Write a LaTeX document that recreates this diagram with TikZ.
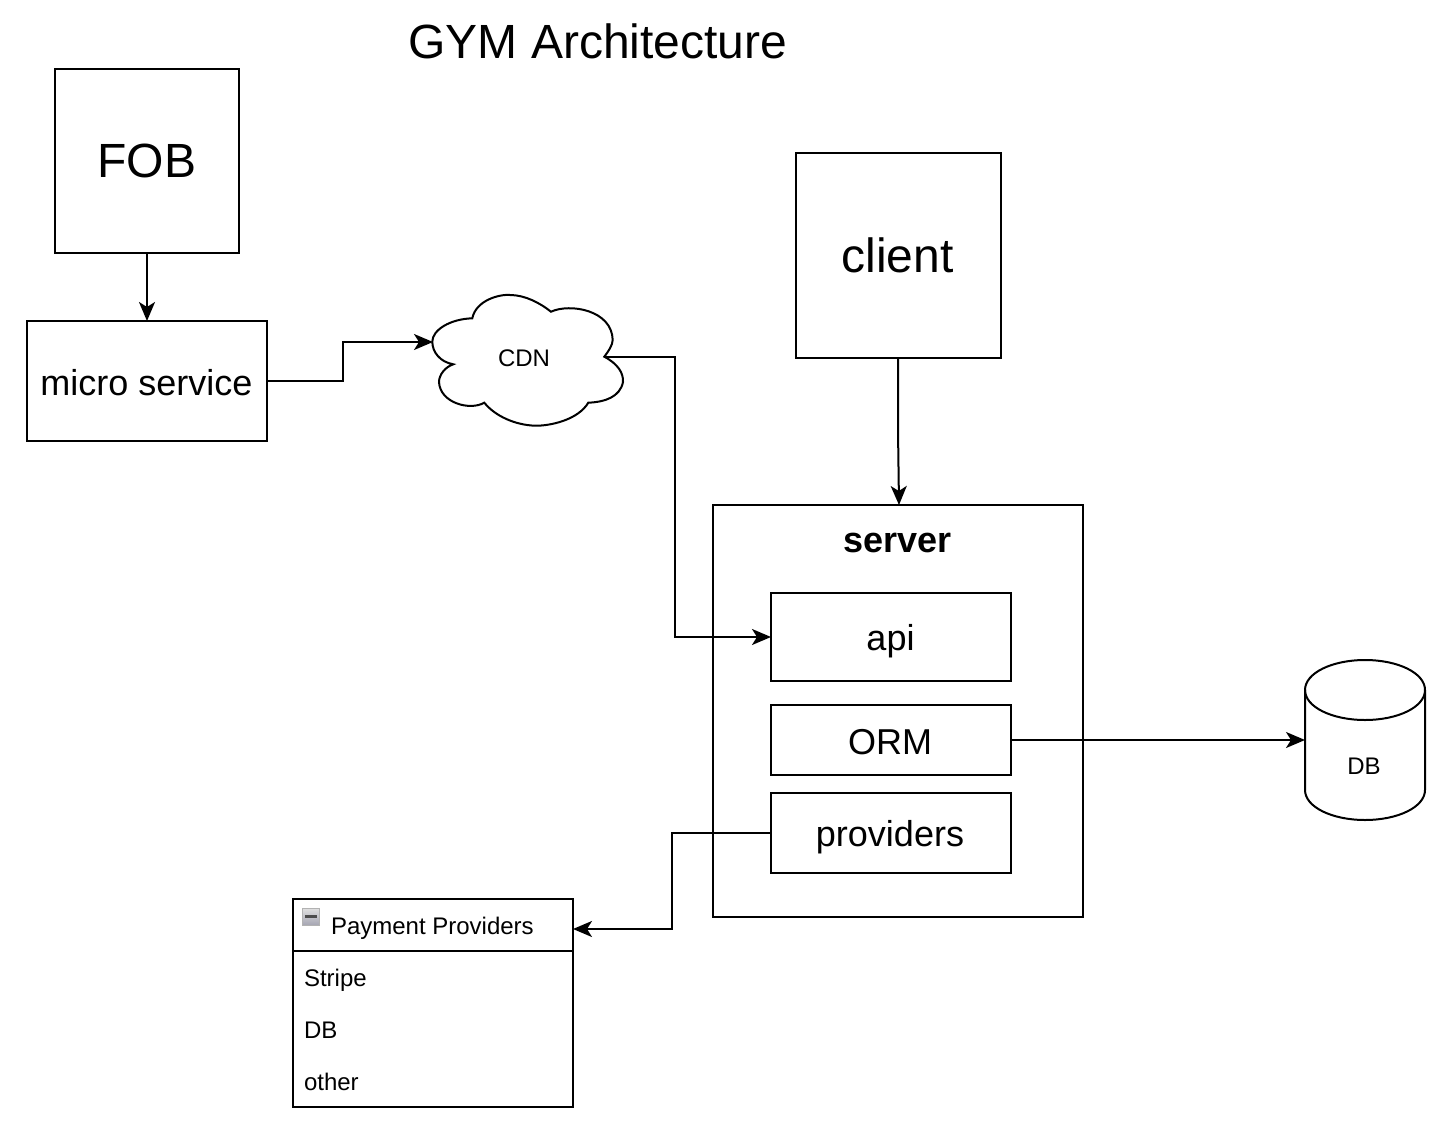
\documentclass[tikz,border=0pt]{standalone}
\usepackage{fontspec}
\setmainfont{Liberation Sans}
\usetikzlibrary{arrows.meta}
\tikzset{
  base/.style={line width=2pt,outer sep=0pt,inner sep=0pt,draw=black,fill=white},
  txt/.style={inner sep=0pt,outer sep=0pt,text=black},
  conn/.style={line width=2pt,draw=black,-{Stealth[length=19pt,width=16pt,inset=5pt]}},
  fontA/.style={font=\fontsize{48}{54}\selectfont},
  fontB/.style={font=\fontsize{36}{42}\selectfont},
  fontC/.style={font=\fontsize{24}{28}\selectfont},
}
\begin{document}
\begin{tikzpicture}[x=1pt,y=-1pt]
\useasboundingbox[fill=white] (0,0) rectangle (1456,1134);
\node[txt,fontA] (title) at (598,41) {GYM Architecture};
\node[base,fontA,minimum width=184pt,minimum height=184pt] (fob) at (147,161) {FOB};
\node[base,fontB,text height=28pt,text depth=0pt,minimum width=240pt,minimum height=120pt] (micro) at (147,381) {\kern-1pt micro service};
\node[base,fontA,minimum width=205pt,minimum height=205pt] (client) at (898,255.5) {\kern-1pt client};
\node[base,minimum width=370pt,minimum height=412pt] (server) at (898,711) {};
\node[txt,fontB] (servertitle) at (897.5,543) {\bfseries server};
\node[base,fontB,text depth=0pt,minimum width=240pt,minimum height=88pt] (api) at (891,637) {\kern-1pt api};
\node[base,fontB,text height=28pt,text depth=0pt,minimum width=240pt,minimum height=70pt] (orm) at (891,740) {\kern-2pt ORM};
\node[base,fontB,text depth=0pt,minimum width=240pt,minimum height=80pt] (prov) at (891,833) {\kern-2pt providers};
% cloud
\draw[base] (432.3,341.7)
  .. controls (432.3,330) and (450,319) .. (472.3,318.3)
  .. controls (476,300) and (500,294) .. (510,295)
  .. controls (525,295) and (540,303) .. (551,311.7)
  .. controls (570,303) and (612,310) .. (612.7,340)
  .. controls (612.7,345) and (608,352) .. (604.3,356.7)
  .. controls (618,364) and (623.5,373) .. (623,382)
  .. controls (620,397) and (605,402) .. (588.3,402.7)
  .. controls (578,420) and (550,426) .. (535,425.7)
  .. controls (515,425) and (495,416) .. (484.3,402.7)
  .. controls (470,411) and (440,403) .. (439,382)
  .. controls (439,375) and (445,367) .. (453.3,364.3)
  .. controls (440,362) and (432.3,352) .. (432.3,341.7) -- cycle;
\coordinate (cloudW) at (433,342);
\coordinate (cloudE) at (605,357);
\node[txt,fontC] (cdn) at (524,358) {CDN};
% cylinder
\draw[base] (1305,690) .. controls (1305,673) and (1332,660) .. (1365,660)
  .. controls (1398,660) and (1425,673) .. (1425,690)
  -- (1425,790) .. controls (1425,807) and (1398,820) .. (1365,820)
  .. controls (1332,820) and (1305,807) .. (1305,790) -- cycle;
\draw[line width=2pt] (1305,690) .. controls (1305,707) and (1332,720) .. (1365,720)
  .. controls (1398,720) and (1425,707) .. (1425,690);
\coordinate (dbW) at (1305,740);
\node[txt,fontC] (db) at (1364,766) {DB};
% table
\node[base,minimum width=280pt,minimum height=208pt] (table) at (433,1003) {};
\coordinate (hdrL) at (293,951);
\coordinate (hdrR) at (573,951);
\draw[line width=2pt] (hdrL) -- (hdrR);
\coordinate (tableE) at (573,929);
\shade[top color=black!12,bottom color=blue!15!black!35] (302.5,908) rectangle (319.5,925);
\draw[black!30,line width=0.6pt] (302.5,908) rectangle (319.5,925);
\draw[black!70,line width=2.2pt] (305,916.5) -- (317,916.5);
\node[txt,fontC,anchor=west] (phead) at (331,928) {Payment Providers};
\node[txt,fontC,anchor=west] (r1) at (304,980) {Stripe};
\node[txt,fontC,anchor=west] (r2) at (304,1030) {DB};
\node[txt,fontC,anchor=west] (r3) at (304,1082) {other};
% connectors
\draw[conn] (fob.south) -- (micro.north);
\draw[conn] (micro.east) -- (343,381) -- (343,342) -- (cloudW);
\draw[conn] (cloudE) -- (675,357) -- (675,637) -- (api.west);
\draw[conn] (client.south) -- (898,430) -- (899,505);
\draw[conn] (orm.east) -- (dbW);
\draw[conn] (prov.west) -- (672,833) -- (672,929) -- (tableE);
\end{tikzpicture}
\end{document}
